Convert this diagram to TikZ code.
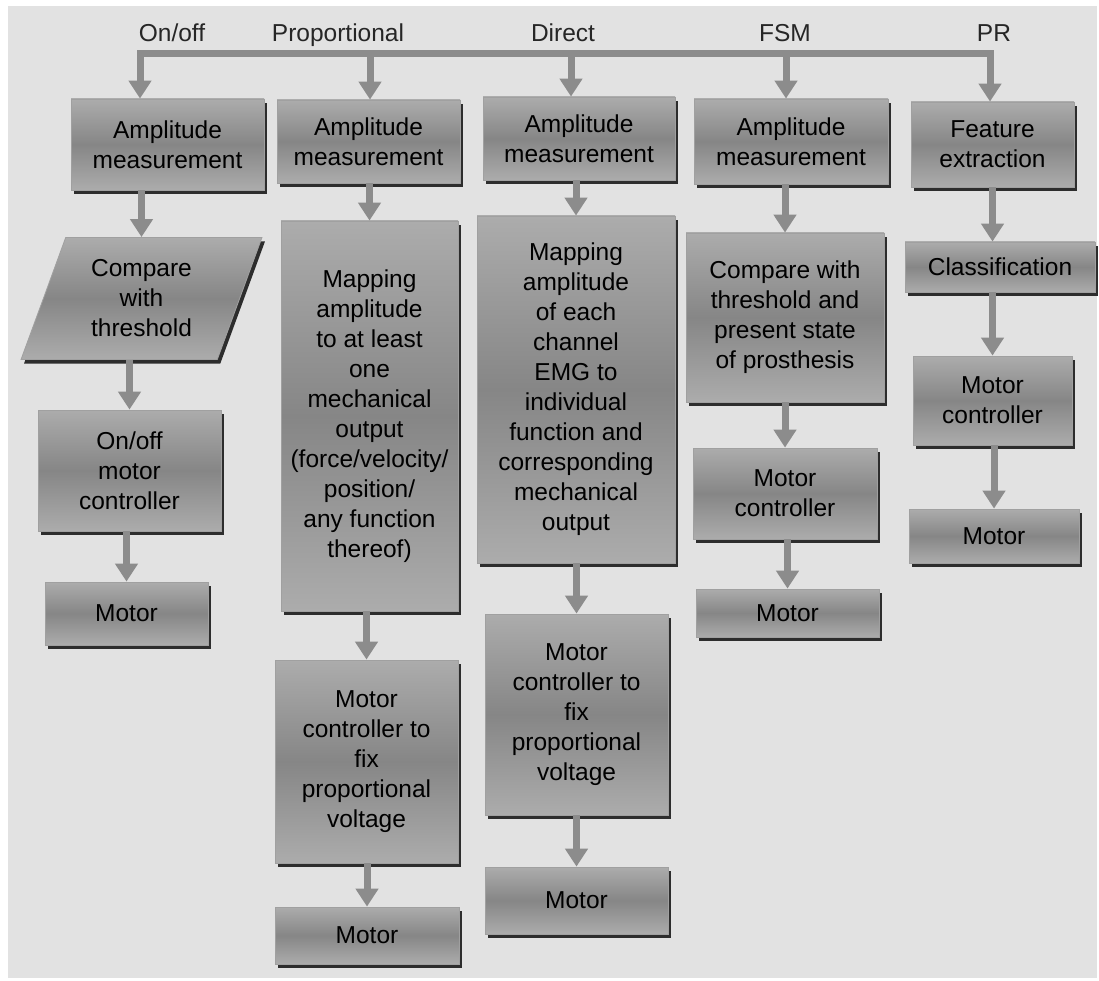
\documentclass[tikz,border=0pt]{standalone}
\usepackage{fontspec}
\setmainfont{Liberation Sans}
\usetikzlibrary{shapes.geometric,arrows.meta,shadows}

\definecolor{bggrey}{RGB}{226,226,226}
\definecolor{boxlite}{RGB}{172,172,172}
\definecolor{boxmid}{RGB}{134,134,134}
\definecolor{boxline}{RGB}{160,160,160}
\definecolor{boxshade}{RGB}{45,45,45}
\definecolor{flowgrey}{RGB}{140,140,140}
\newcommand{\boxfont}{\fontsize{24.5pt}{30pt}\selectfont}

\begin{document}
\begin{tikzpicture}
[every node/.style={inner sep=0pt},
 block/.style={rectangle, draw=boxline, line width=0.8pt, top color=boxlite, bottom color=boxlite, middle color=boxmid, drop shadow={shadow xshift=3pt, shadow yshift=-4pt, fill=boxshade, opacity=1}, align=center, font=\boxfont, text=black},
 slanted/.style={block, trapezium, trapezium left angle=69, trapezium right angle=111, trapezium stretches},
 tag/.style={anchor=base, font=\boxfont, text=black!85},
 flow/.style={line width=7pt, color=flowgrey},
 flowarrow/.style={flow, -{Triangle[width=22pt, length=18pt]}}]
\useasboundingbox (0pt, 0pt) rectangle (1099pt, -981pt);
\fill [white] (0pt, 0pt) rectangle (1099pt, -981pt);
\fill [bggrey] (8pt, -6pt) rectangle (1097pt, -978pt);
% headings
\node (lonoff) [tag] at (172pt, -41.5pt) {On/off};
\node (lprop) [tag] at (338pt, -41.5pt) {Proportional};
\node (ldirect) [tag] at (563pt, -41.5pt) {Direct};
\node (lfsm) [tag] at (785pt, -41.5pt) {FSM};
\node (lpr) [tag] at (994pt, -41.5pt) {PR};
% on/off
\node (a1) [block, minimum width=193pt, minimum height=91pt] at (167.5pt, -144.5pt) {Amplitude\\measurement};
\node (cmp1) [slanted, minimum width=241pt, minimum height=122pt] at (141.5pt, -298.5pt) {Compare\\with\\threshold};
\node (mc1) [block, minimum width=183pt, minimum height=121pt] at (129.5pt, -470.5pt) {On/off\\motor\\controller};
\node (m1) [block, minimum width=163pt, minimum height=63pt] at (126.5pt, -613.5pt) {Motor};
% proportional
\node (a2) [block, minimum width=183pt, minimum height=83pt] at (368.5pt, -141.5pt) {Amplitude\\measurement};
\node (map2) [block, minimum width=177pt, minimum height=390pt] at (369.5pt, -416pt) {Mapping\\amplitude\\to at least\\one\\mechanical\\output\\(force/velocity/\\position/\\any function\\thereof)};
\node (mc2) [block, minimum width=183pt, minimum height=203pt] at (366.5pt, -761.5pt) {Motor\\controller to\\fix\\proportional\\voltage};
\node (m2) [block, minimum width=184pt, minimum height=57pt] at (367pt, -935.5pt) {Motor};
% direct
\node (a3) [block, minimum width=192pt, minimum height=83pt] at (579pt, -138.5pt) {Amplitude\\measurement};
\node (map3) [block, minimum width=198pt, minimum height=347pt] at (576pt, -389.5pt) {Mapping\\amplitude\\of each\\channel\\EMG to\\individual\\function and\\corresponding\\mechanical\\output};
\node (mc3) [block, minimum width=183pt, minimum height=201pt] at (576.5pt, -714.5pt) {Motor\\controller to\\fix\\proportional\\voltage};
\node (m3) [block, minimum width=183pt, minimum height=67pt] at (576.5pt, -900.5pt) {Motor};
% FSM
\node (a4) [block, minimum width=194pt, minimum height=85pt] at (791pt, -141.5pt) {Amplitude\\measurement};
\node (cmp4) [block, minimum width=198pt, minimum height=169pt] at (785pt, -317.5pt) {Compare with\\threshold and\\present state\\of prosthesis};
\node (mc4) [block, minimum width=184pt, minimum height=91pt] at (785pt, -493.5pt) {Motor\\controller};
\node (m4) [block, minimum width=183pt, minimum height=48pt] at (787.5pt, -613pt) {Motor};
% PR
\node (fe5) [block, minimum width=163pt, minimum height=85pt] at (992.5pt, -144.5pt) {Feature\\extraction};
\node (cl5) [block, minimum width=190pt, minimum height=50pt] at (1000pt, -267pt) {Classification};
\node (mc5) [block, minimum width=159pt, minimum height=89pt] at (992.5pt, -400.5pt) {Motor\\controller};
\node (m5) [block, minimum width=170pt, minimum height=54pt] at (994pt, -536pt) {Motor};
% bus
\coordinate (t1) at (140pt, -53.5pt);
\coordinate (t2) at (370pt, -53.5pt);
\coordinate (t3) at (571pt, -53.5pt);
\coordinate (t4) at (786pt, -53.5pt);
\coordinate (t5) at (990pt, -53.5pt);
\draw [flow, line cap=rect] (t1) -- (t5);
\draw [flowarrow] (t1) -- (t1 |- a1.north);
\draw [flowarrow] (t2) -- (t2 |- a2.north);
\draw [flowarrow] (t3) -- (t3 |- a3.north);
\draw [flowarrow] (t4) -- (t4 |- a4.north);
\draw [flowarrow] (t5) -- (t5 |- fe5.north);
% steps
\foreach \from/\to in {a1/cmp1, cmp1/mc1, mc1/m1, a2/map2, map2/mc2, mc2/m2, a3/map3, map3/mc3, mc3/m3, a4/cmp4, cmp4/mc4, mc4/m4, cl5/mc5, mc5/m5}
  \draw [flowarrow] (\from.south -| \to.north) -- (\to.north);
\draw [flowarrow] (fe5.south) -- (fe5.south |- cl5.north);
\end{tikzpicture}
\end{document}
